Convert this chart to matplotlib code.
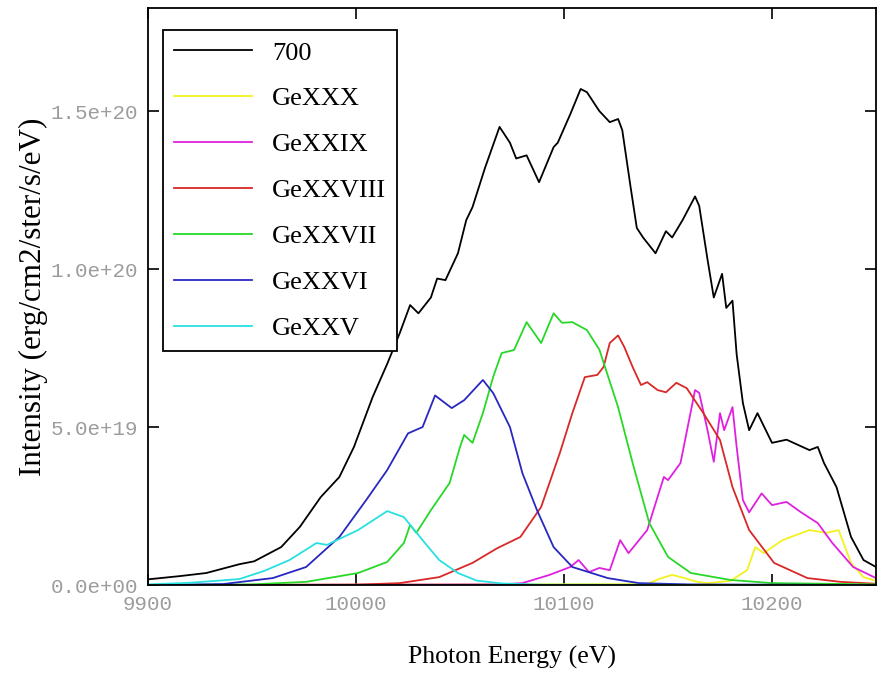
import matplotlib
matplotlib.use("Agg")
import matplotlib.pyplot as plt
from matplotlib.ticker import FormatStrFormatter
import numpy as np

e_700 = [9900, 9915, 9928, 9944, 9951, 9964, 9973, 9983, 9992, 9999, 10008, 10015,
         10021, 10026, 10030, 10036, 10039, 10043, 10049, 10053, 10056, 10062, 10069,
         10074, 10077, 10082, 10088, 10095, 10097, 10103, 10108, 10111, 10117, 10122,
         10126, 10128, 10132, 10135, 10138, 10144, 10149, 10152, 10157, 10163, 10165,
         10169, 10172, 10176, 10178, 10181, 10183, 10186, 10189, 10193, 10200, 10207,
         10218, 10222, 10225, 10231, 10238, 10244, 10250]
i_700 = [0.18, 0.28, 0.38, 0.66, 0.75, 1.2, 1.84, 2.78, 3.42, 4.37, 5.95, 7.0,
         7.97, 8.86, 8.6, 9.1, 9.7, 9.65, 10.5, 11.55, 11.96, 13.2, 14.5,
         14.0, 13.5, 13.6, 12.75, 13.86, 14.0, 14.9, 15.7, 15.6, 15.0, 14.65,
         14.75, 14.4, 12.6, 11.3, 11.0, 10.5, 11.2, 11.0, 11.55, 12.3, 12.0,
         10.3, 9.1, 9.85, 8.77, 9.0, 7.3, 5.76, 4.9, 5.44, 4.5, 4.6,
         4.27, 4.37, 3.86, 3.1, 1.52, 0.79, 0.57]

e_xxx = [9900, 10140, 10146, 10152, 10158, 10164, 10169, 10180, 10188, 10192, 10196,
         10205, 10218, 10226, 10232, 10238, 10244, 10250]
i_xxx = [0.0, 0.03, 0.2, 0.32, 0.22, 0.1, 0.06, 0.13, 0.47, 1.2, 1.01,
         1.42, 1.74, 1.65, 1.74, 0.7, 0.25, 0.13]

e_xxix = [9900, 10070, 10080, 10093, 10103, 10107, 10112, 10117, 10122, 10127, 10131,
          10140, 10148, 10150, 10156, 10163, 10165, 10169, 10172, 10175, 10177, 10181,
          10183, 10186, 10189, 10195, 10200, 10207, 10214, 10222, 10229, 10239, 10250]
i_xxix = [0.0, 0.02, 0.06, 0.32, 0.57, 0.79, 0.41, 0.54, 0.47, 1.42, 1.01,
          1.74, 3.42, 3.32, 3.86, 6.17, 6.08, 4.9, 3.9, 5.44, 4.9, 5.63,
          4.37, 2.69, 2.3, 2.9, 2.53, 2.63, 2.3, 1.96, 1.33, 0.57, 0.22]

e_xxviii = [9900, 10000, 10021, 10040, 10056, 10068, 10079, 10089, 10098, 10104, 10110,
            10116, 10119, 10122, 10126, 10129, 10133, 10137, 10140, 10145, 10149, 10154,
            10159, 10167, 10175, 10181, 10189, 10201, 10217, 10233, 10250]
i_xxviii = [0.0, 0.01, 0.06, 0.25, 0.7, 1.17, 1.52, 2.47, 4.18, 5.44, 6.58,
            6.65, 6.9, 7.66, 7.9, 7.53, 6.9, 6.33, 6.42, 6.17, 6.1, 6.4,
            6.23, 5.44, 4.59, 3.1, 1.74, 0.7, 0.22, 0.1, 0.04]

e_xxvii = [9900, 9950, 9976, 10001, 10015, 10023, 10026, 10029, 10036, 10045, 10050,
           10052, 10056, 10061, 10066, 10070, 10076, 10082, 10089, 10095, 10099,
           10104, 10111, 10117, 10126, 10133, 10141, 10150, 10161, 10180, 10200, 10250]
i_xxvii = [0.0, 0.02, 0.1, 0.38, 0.73, 1.33, 1.9, 1.65, 2.37, 3.23, 4.37,
           4.75, 4.5, 5.44, 6.6, 7.34, 7.44, 8.32, 7.66, 8.6, 8.3,
           8.32, 8.07, 7.45, 5.63, 3.86, 1.96, 0.89, 0.38, 0.16, 0.06, 0.02]

e_xxvi = [9900, 9936, 9960, 9976, 9992, 10005, 10015, 10025, 10032, 10038, 10046,
          10052, 10061, 10066, 10074, 10080, 10087, 10095, 10104, 10121, 10136,
          10160, 10250]
i_xxvi = [0.0, 0.03, 0.22, 0.57, 1.52, 2.7, 3.64, 4.8, 5.0, 6.0, 5.6,
          5.85, 6.49, 6.07, 5.0, 3.54, 2.37, 1.2, 0.57, 0.22, 0.06,
          0.02, 0.0]

e_xxv = [9900, 9920, 9944, 9956, 9968, 9981, 9986, 10001, 10015, 10023, 10032,
         10040, 10049, 10058, 10070, 10090, 10250]
i_xxv = [0.02, 0.07, 0.19, 0.45, 0.79, 1.33, 1.27, 1.74, 2.34, 2.15, 1.42,
         0.79, 0.38, 0.14, 0.05, 0.01, 0.0]

series = [
    ("700", e_700, i_700, "black"),
    ("GeXXX", e_xxx, i_xxx, "#f2f21e"),
    ("GeXXIX", e_xxix, i_xxix, "#e020e0"),
    ("GeXXVIII", e_xxviii, i_xxviii, "#d82828"),
    ("GeXXVII", e_xxvii, i_xxvii, "#28d828"),
    ("GeXXVI", e_xxvi, i_xxvi, "#2828c0"),
    ("GeXXV", e_xxv, i_xxv, "#28e0e0"),
]

fig = plt.figure(figsize=(8.79, 6.75), dpi=100)
ax = fig.add_axes([0.1684, 0.1333, 0.8282, 0.8547])

for name, e, i, c in series:
    ax.plot(e, np.array(i) * 1e19, color=c, lw=1.3, label=name)

ax.set_xlim(9900, 10250)
ax.set_ylim(0, 1.826e20)
ax.set_xticks([9900, 10000, 10100, 10200])
ax.set_yticks([0, 5e19, 1e20, 1.5e20])
ax.yaxis.set_major_formatter(FormatStrFormatter("%.1e"))
ax.tick_params(direction="in", length=8, width=1.2, top=True, right=True,
               labelsize=15, labelcolor="#9c9c9c", pad=7)
for lab in ax.get_xticklabels() + ax.get_yticklabels():
    lab.set_family("Liberation Mono")
for s in ax.spines.values():
    s.set_linewidth(1.3)

ax.set_xlabel("Photon Energy (eV)", family="Liberation Serif", fontsize=18.6, labelpad=23)
ax.set_ylabel("Intensity (erg/cm2/ster/s/eV)", family="Liberation Serif", fontsize=22.4, labelpad=2)

leg = ax.legend(loc="upper left", bbox_to_anchor=(0.0206, 0.962), borderaxespad=0,
                prop={"family": "Liberation Serif", "size": 19},
                handlelength=2.95, labelspacing=0.85, fancybox=False, framealpha=1,
                edgecolor="black", borderpad=0.42, handletextpad=0.76)
leg.get_frame().set_linewidth(1.3)

plt.savefig("out.png", dpi=100)
